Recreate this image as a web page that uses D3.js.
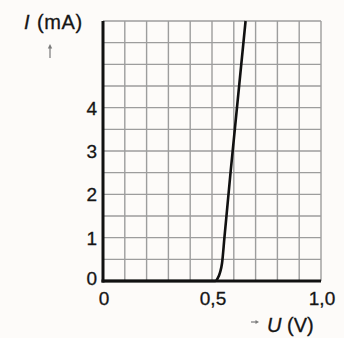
<!DOCTYPE html>
<html>
<head>
<meta charset="utf-8">
<script src="https://cdn.jsdelivr.net/npm/d3@7/dist/d3.min.js"></script>
<style>
  html, body { margin: 0; padding: 0; background: #fdfbf9; }
  svg { display: block; }
  text { font-family: "Liberation Sans", Arial, sans-serif; fill: #151515; stroke: #151515; stroke-width: 0.3; }
</style>
</head>
<body>
<div id="chart"></div>
<script>
// Diode characteristic: forward current I (mA) against voltage U (V)
const voltage = [0, 0.1, 0.2, 0.3, 0.4, 0.5, 0.515, 0.527, 0.537, 0.546, 0.557, 0.585, 0.654];
const current = [0, 0, 0, 0, 0, 0, 0, 0.07, 0.2, 0.41, 1.0, 2.5, 6.0];

const xTickValues = [0, 0.5, 1.0];
const xTickLabels = ["0", "0,5", "1,0"];
const yTickValues = [0, 1, 2, 3, 4];
const yTickLabels = ["0", "1", "2", "3", "4"];

const W = 344, H = 338;
const margin = { left: 103, right: 23, top: 21, bottom: 57 };

const svg = d3.select("#chart").append("svg")
  .attr("width", W).attr("height", H);

const x = d3.scaleLinear().domain([0, 1.0]).range([margin.left, W - margin.right]);
const y = d3.scaleLinear().domain([0, 6]).range([H - margin.bottom, margin.top]);

// grid: 0.1 V columns, 0.5 mA rows
const grid = svg.append("g").attr("stroke", "#9d9d9d").attr("stroke-width", 1.4);
grid.selectAll("line.v").data(d3.range(1, 11).map(i => i / 10)).join("line")
  .attr("x1", d => x(d)).attr("x2", d => x(d))
  .attr("y1", y(0)).attr("y2", y(6));
grid.selectAll("line.h").data(d3.range(1, 13).map(i => i / 2)).join("line")
  .attr("x1", x(0)).attr("x2", x(1))
  .attr("y1", d => y(d)).attr("y2", d => y(d));

// characteristic curve
const line = d3.line()
  .x((d, i) => x(voltage[i]))
  .y((d, i) => y(current[i]))
  .curve(d3.curveMonotoneX);
svg.append("path")
  .datum(voltage)
  .attr("d", line)
  .attr("fill", "none")
  .attr("stroke", "#111")
  .attr("stroke-width", 2.6);

// heavy axis lines
svg.append("line").attr("x1", x(0)).attr("x2", x(0))
  .attr("y1", y(6)).attr("y2", y(0) + 1.5)
  .attr("stroke", "#111").attr("stroke-width", 3);
svg.append("line").attr("x1", x(0) - 1.5).attr("x2", x(1))
  .attr("y1", y(0)).attr("y2", y(0))
  .attr("stroke", "#111").attr("stroke-width", 3);

// y tick labels
svg.append("g").selectAll("text").data(yTickValues).join("text")
  .attr("x", x(0) - 6)
  .attr("y", d => y(d) - (d === 0 ? 3 : 0))
  .attr("dy", "0.36em")
  .attr("text-anchor", "end")
  .attr("font-size", 19)
  .text((d, i) => yTickLabels[i]);

// x tick labels
svg.append("g").selectAll("text").data(xTickValues).join("text")
  .attr("x", d => x(d) + 1)
  .attr("y", y(0) + 24)
  .attr("text-anchor", "middle")
  .attr("font-size", 19)
  .text((d, i) => xTickLabels[i]);

// axis titles
const yTitle = svg.append("text").attr("x", 24).attr("y", 29).attr("font-size", 20);
yTitle.append("tspan").attr("font-style", "italic").text("I");
yTitle.append("tspan").attr("x", 37).attr("letter-spacing", 0.6).text("(mA)");

const xTitle = svg.append("text").attr("x", 267).attr("y", 332).attr("font-size", 20);
xTitle.append("tspan").attr("font-style", "italic").text("U");
xTitle.append("tspan").text(" (V)");

// small direction arrows beside the titles
const arrowColor = "#7a7a7a";
svg.append("line").attr("x1", 50).attr("x2", 50).attr("y1", 58).attr("y2", 46)
  .attr("stroke", arrowColor).attr("stroke-width", 1.2);
svg.append("path").attr("d", "M47.8,48.5 L50,44 L52.2,48.5 Z").attr("fill", arrowColor);
svg.append("line").attr("x1", 251).attr("x2", 257).attr("y1", 322).attr("y2", 322)
  .attr("stroke", arrowColor).attr("stroke-width", 1.2);
svg.append("path").attr("d", "M255.5,320 L259,322 L255.5,324 Z").attr("fill", arrowColor);
</script>
</body>
</html>
